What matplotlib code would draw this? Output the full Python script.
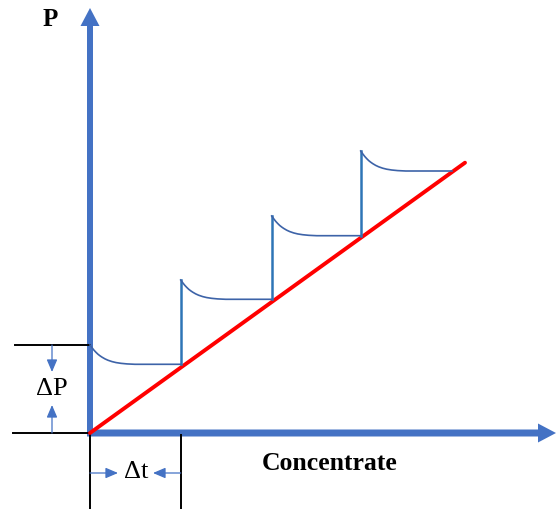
import matplotlib
matplotlib.use("Agg")
import matplotlib.pyplot as plt
from matplotlib.patches import FancyArrow

# ---- data (units: pixels measured from the origin of the diagram) ----
step_x = [0, 90.7, 181.7, 270.7]          # start of each step
step_end = [90.7, 181.7, 270.7, 362]      # end of each plateau
peak_p = [88, 153, 217, 282]              # pressure just after each step
flat_p = [68.7, 133.7, 197.3, 262]        # plateau pressure
decay_dx = [0, 2, 4, 6, 8, 10, 12, 15, 18, 22, 26, 31, 37, 45]
decay_frac = [1, 0.86, 0.73, 0.62, 0.52, 0.44, 0.37, 0.28, 0.21, 0.14, 0.09, 0.05, 0.02, 0]
line_x = [0, 375]
line_p = [0, 270.3]

# labels
y_label = "P"
x_label = "Concentrate"
dp_label = "ΔP"
dt_label = "Δt"

BLUE = "#4472C4"
fig = plt.figure(figsize=(5.57, 5.09), dpi=100)
ax = fig.add_axes([0, 0, 1, 1])
ax.set_xlim(-90, 467)
ax.set_ylim(-76, 433)
ax.axis("off")

# axes arrows
ax.add_patch(FancyArrow(0, -1, 0, 426, width=6, head_width=19, head_length=18,
                        length_includes_head=True, color=BLUE, lw=0))
ax.add_patch(FancyArrow(-3, 0, 469, 0, width=7, head_width=19, head_length=18,
                        length_includes_head=True, color=BLUE, lw=0))

# red line
ax.plot(line_x, line_p, color="#FF0000", lw=2.8, solid_capstyle="round", zorder=3)

# step curve
for i in range(len(step_x)):
    x0 = step_x[i]
    if i > 0:
        ax.plot([x0, x0], [flat_p[i - 1], peak_p[i]], color="#2E75B6", lw=1.8, zorder=4)
    xs = [x0 + d for d in decay_dx] + [step_end[i]]
    ys = [flat_p[i] + f * (peak_p[i] - flat_p[i]) for f in decay_frac] + [flat_p[i]]
    ax.plot(xs, ys, color="#3D63A8", lw=1.2, zorder=4)

# black reference lines
ax.plot([-75, 0], [peak_p[0], peak_p[0]], color="black", lw=1.4)
ax.plot([-77, 0], [0, 0], color="black", lw=1.4, zorder=1)
ax.plot([0, 0], [0, -78], color="black", lw=1.4, zorder=1)
ax.plot([step_x[1], step_x[1]], [-2, -78], color="black", lw=1.4)

# ΔP arrows
akw = dict(arrowstyle="-|>,head_length=0.75,head_width=0.32", color=BLUE, lw=0.9,
           shrinkA=0, shrinkB=0)
ax.annotate("", xy=(-38, 61), xytext=(-38, peak_p[0]), arrowprops=akw)
ax.annotate("", xy=(-38, 28), xytext=(-38, 0), arrowprops=akw)
# Δt arrows
ax.annotate("", xy=(28, -40), xytext=(0, -40), arrowprops=akw)
ax.annotate("", xy=(63, -40), xytext=(step_x[1], -40), arrowprops=akw)

serif = ["Liberation Serif", "DejaVu Serif"]
ax.text(-38, 44, dp_label, ha="center", va="center", fontsize=19, family=serif)
ax.text(46, -39, dt_label, ha="center", va="center", fontsize=19, family=serif)
ax.text(-39.5, 414, y_label, ha="center", va="center", fontsize=18, family=serif,
        fontweight="bold")
ax.text(240, -31, x_label, ha="center", va="center", fontsize=18.5, family=serif,
        fontweight="bold")

fig.savefig("out.png", dpi=100)
